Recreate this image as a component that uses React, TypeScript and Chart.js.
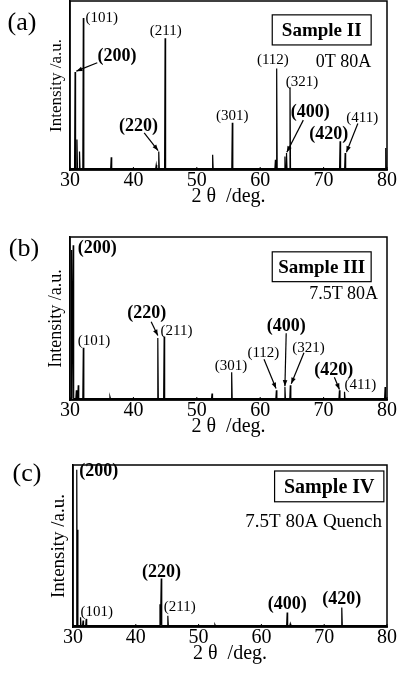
import React, { useEffect, useRef } from 'react';
import { Chart, registerables } from 'chart.js';

Chart.register(...registerables);

const FONT = '"Liberation Serif", "Times New Roman", serif';

// ---------- data (2θ in degrees, intensity in % of full scale) ----------
const xTickValues = [30, 40, 50, 60, 70, 80];

// (a) Sample II, 0T 80A
const peakPosA = [30.8, 31.1, 31.5, 32.1, 36.5, 43.6, 44.0, 45.0, 52.5, 55.6, 62.4, 62.6, 63.9, 64.15, 64.7, 72.6, 73.4, 79.8];
const peakIntA = [58, 18, 11, 90, 7.5, 3, 11, 78, 9, 28, 6, 60, 8, 10, 49, 17, 10, 13];

// (b) Sample III, 7.5T 80A
const peakPosB = [30.25, 30.5, 31.0, 31.3, 32.1, 36.3, 43.85, 44.85, 52.4, 55.5, 62.55, 63.9, 64.75, 72.5, 73.3, 79.7];
const peakIntB = [92, 95, 6, 9, 32, 2, 38, 39, 4, 17, 6, 8, 9, 6, 5, 8];

// (c) Sample IV, 7.5T 80A Quench
const peakPosC = [30.6, 30.7, 31.2, 31.6, 32.1, 43.85, 44.05, 45.1, 52.6, 64.1, 64.6, 72.8];
const peakIntC = [97, 60, 6, 4, 5, 14, 30, 7, 1.5, 9, 2, 12];

const baseLevel = 0.8;

// peak labels: text, bold, label position (deg, %), optional arrow from/to (deg, %)
const labelsA = [
  { t: '(101)', b: false, x: 35.0, y: 90 },
  { t: '(200)', b: true, x: 37.4, y: 67, from: [34.3, 63.5], to: [31.0, 58.5] },
  { t: '(211)', b: false, x: 45.1, y: 82 },
  { t: '(220)', b: true, x: 40.8, y: 26, from: [41.7, 22], to: [43.9, 11.5] },
  { t: '(301)', b: false, x: 55.6, y: 32 },
  { t: '(112)', b: false, x: 62.0, y: 65 },
  { t: '(321)', b: false, x: 66.6, y: 52 },
  { t: '(400)', b: true, x: 67.9, y: 34, from: [66.8, 29.5], to: [64.2, 10.5] },
  { t: '(420)', b: true, x: 70.8, y: 21 },
  { t: '(411)', b: false, x: 76.1, y: 31, from: [75.4, 27.5], to: [73.6, 10.5] },
];
const labelsB = [
  { t: '(200)', b: true, x: 34.3, y: 93 },
  { t: '(101)', b: false, x: 33.8, y: 36 },
  { t: '(220)', b: true, x: 42.1, y: 53, from: [42.8, 48], to: [43.85, 39.5] },
  { t: '(211)', b: false, x: 46.8, y: 42 },
  { t: '(301)', b: false, x: 55.4, y: 21 },
  { t: '(112)', b: false, x: 60.5, y: 29, from: [60.6, 25], to: [62.5, 7] },
  { t: '(400)', b: true, x: 64.1, y: 45, from: [64.1, 41], to: [63.9, 8.5] },
  { t: '(321)', b: false, x: 67.6, y: 32, from: [66.9, 29], to: [64.9, 10] },
  { t: '(420)', b: true, x: 71.6, y: 18, from: [71.7, 14], to: [72.5, 6.5] },
  { t: '(411)', b: false, x: 75.8, y: 9 },
];
const labelsC = [
  { t: '(200)', b: true, x: 34.1, y: 96 },
  { t: '(101)', b: false, x: 33.8, y: 9.5 },
  { t: '(220)', b: true, x: 44.1, y: 34 },
  { t: '(211)', b: false, x: 47.0, y: 12 },
  { t: '(400)', b: true, x: 64.1, y: 14 },
  { t: '(420)', b: true, x: 72.8, y: 17 },
];

// ---------- panel layout ----------
const panels = [
  {
    key: 'a', letter: '(a)', top: 0, h: 210,
    pos: peakPosA, int: peakIntA, labels: labelsA,
    pad: { left: 46.6, right: 10, top: 1, bottom: 3 }, yTitleSize: 17,
    letterXY: [22, 23],
    box: { x0: 61.9, x1: 77.5, y0: 74, y1: 91.8, text: 'Sample II', size: 19 },
    cond: { text: '0T 80A', x: 77.5, y: 64, size: 18 },
  },
  {
    key: 'b', letter: '(b)', top: 220, h: 220,
    pos: peakPosB, int: peakIntB, labels: labelsB,
    pad: { left: 45.4, right: 10, top: 17, bottom: 3 }, yTitleSize: 18,
    letterXY: [24, 29],
    box: { x0: 61.9, x1: 77.5, y0: 72.6, y1: 90.9, text: 'Sample III', size: 19 },
    cond: { text: '7.5T 80A', x: 78.6, y: 64.6, size: 18 },
  },
  {
    key: 'c', letter: '(c)', top: 440, h: 233,
    pos: peakPosC, int: peakIntC, labels: labelsC,
    pad: { left: 47.2, right: 10, top: 25, bottom: 9 }, yTitleSize: 19,
    letterXY: [27, 34],
    box: { x0: 62.1, x1: 79.5, y0: 77.3, y1: 96.3, text: 'Sample IV', size: 20 },
    cond: { text: '7.5T 80A Quench', x: 79.2, y: 65, size: 19 },
  },
];

function buildPattern(pos: number[], int: number[]) {
  const pts: { x: number; y: number }[] = [{ x: 30, y: baseLevel }];
  const hw = 0.08;
  for (let i = 0; i < pos.length; i++) {
    pts.push({ x: pos[i] - hw, y: baseLevel });
    pts.push({ x: pos[i], y: int[i] });
    pts.push({ x: pos[i] + hw, y: baseLevel });
  }
  pts.push({ x: 80, y: baseLevel });
  return pts;
}

function drawArrow(ctx: CanvasRenderingContext2D, x0: number, y0: number, x1: number, y1: number) {
  ctx.beginPath();
  ctx.moveTo(x0, y0);
  ctx.lineTo(x1, y1);
  ctx.stroke();
  const a = Math.atan2(y1 - y0, x1 - x0);
  const L = 6, W = 2.3;
  ctx.beginPath();
  ctx.moveTo(x1, y1);
  ctx.lineTo(x1 - L * Math.cos(a) + W * Math.sin(a), y1 - L * Math.sin(a) - W * Math.cos(a));
  ctx.lineTo(x1 - L * Math.cos(a) - W * Math.sin(a), y1 - L * Math.sin(a) + W * Math.cos(a));
  ctx.closePath();
  ctx.fill();
}

const decorPlugin = {
  id: 'decor',
  afterDraw(chart: any, _args: any, opts: any) {
    const { ctx, chartArea: ca } = chart;
    const x = chart.scales.x;
    const y = chart.scales.y;
    const px = (v: number) => x.getPixelForValue(v);
    const py = (v: number) => y.getPixelForValue(v);
    ctx.save();
    ctx.strokeStyle = '#000';
    ctx.fillStyle = '#000';
    // frame
    ctx.lineWidth = 1.5;
    ctx.strokeRect(ca.left, ca.top, ca.right - ca.left, ca.bottom - ca.top);
    // inner tick marks
    ctx.lineWidth = 1;
    x.ticks.forEach((t: any) => {
      const p = px(t.value);
      ctx.beginPath();
      ctx.moveTo(p, ca.bottom);
      ctx.lineTo(p, ca.bottom - 3);
      ctx.stroke();
    });
    // peak labels
    ctx.textAlign = 'center';
    ctx.textBaseline = 'middle';
    ctx.lineWidth = 1.2;
    (opts.labels || []).forEach((l: any) => {
      ctx.font = l.b ? `bold 18px ${FONT}` : `15px ${FONT}`;
      ctx.fillText(l.t, px(l.x), py(l.y));
      if (l.from && l.to) {
        drawArrow(ctx, px(l.from[0]), py(l.from[1]), px(l.to[0]), py(l.to[1]));
      }
    });
    // sample box
    const b = opts.box;
    if (b) {
      const bx0 = px(b.x0), bx1 = px(b.x1), by0 = py(b.y1), by1 = py(b.y0);
      ctx.lineWidth = 1.2;
      ctx.strokeRect(bx0, by0, bx1 - bx0, by1 - by0);
      ctx.font = `bold ${b.size}px ${FONT}`;
      ctx.fillText(b.text, (bx0 + bx1) / 2, (by0 + by1) / 2 + 1);
    }
    const c = opts.cond;
    if (c) {
      ctx.font = `${c.size}px ${FONT}`;
      ctx.textAlign = 'right';
      ctx.fillText(c.text, px(c.x), py(c.y));
    }
    // panel letter
    if (opts.letter) {
      ctx.font = `26px ${FONT}`;
      ctx.textAlign = 'center';
      ctx.fillText(opts.letter, opts.letterXY[0], opts.letterXY[1]);
    }
    ctx.restore();
  },
};

function Panel({ cfg }: { cfg: any }) {
  const ref = useRef<HTMLCanvasElement | null>(null);
  useEffect(() => {
    if (!ref.current) return;
    const chart = new Chart(ref.current, {
      type: 'line',
      data: {
        datasets: [
          {
            data: buildPattern(cfg.pos, cfg.int),
            borderColor: '#000',
            borderWidth: 1.2,
            pointRadius: 0,
            tension: 0,
            fill: false,
          },
        ],
      },
      options: {
        animation: false,
        responsive: false,
        devicePixelRatio: 1,
        parsing: true,
        layout: { padding: cfg.pad },
        plugins: {
          legend: { display: false },
          tooltip: { enabled: false },
          decor: {
            labels: cfg.labels,
            box: cfg.box,
            cond: cfg.cond,
            letter: cfg.letter,
            letterXY: cfg.letterXY,
          },
        } as any,
        scales: {
          x: {
            type: 'linear',
            min: 30,
            max: 80,
            afterBuildTicks: (scale: any) => {
              scale.ticks = xTickValues.map((v) => ({ value: v }));
            },
            ticks: {
              color: '#000',
              font: { family: FONT, size: 20, lineHeight: 1 },
              padding: 1,
              maxRotation: 0,
              autoSkip: false,
            },
            grid: { display: false, drawTicks: false },
            border: { display: true, color: '#000', width: 1.5 },
            title: {
              display: true,
              text: '2 θ  /deg.',
              color: '#000',
              font: { family: FONT, size: 20, lineHeight: 1 },
              padding: { top: -5, bottom: 0 },
            },
          },
          y: {
            type: 'linear',
            min: 0,
            max: 100,
            ticks: { display: false },
            grid: { display: false, drawTicks: false },
            border: { display: true, color: '#000', width: 1.5 },
            title: {
              display: true,
              text: 'Intensity /a.u.',
              color: '#000',
              font: { family: FONT, size: cfg.yTitleSize, lineHeight: 1.2 },
              padding: { top: 0, bottom: 3 },
            },
          },
        },
      },
      plugins: [decorPlugin],
    } as any);
    return () => chart.destroy();
  }, [cfg]);
  return (
    <canvas
      ref={ref}
      width={398}
      height={cfg.h}
      style={{ position: 'absolute', left: 0, top: cfg.top, width: 398, height: cfg.h, display: 'block' }}
    />
  );
}

export default function App() {
  return (
    <div style={{ position: 'absolute', left: 0, top: 0, width: 398, height: 673, background: '#fff', overflow: 'hidden' }}>
      {panels.map((p) => (
        <Panel key={p.key} cfg={p} />
      ))}
    </div>
  );
}
